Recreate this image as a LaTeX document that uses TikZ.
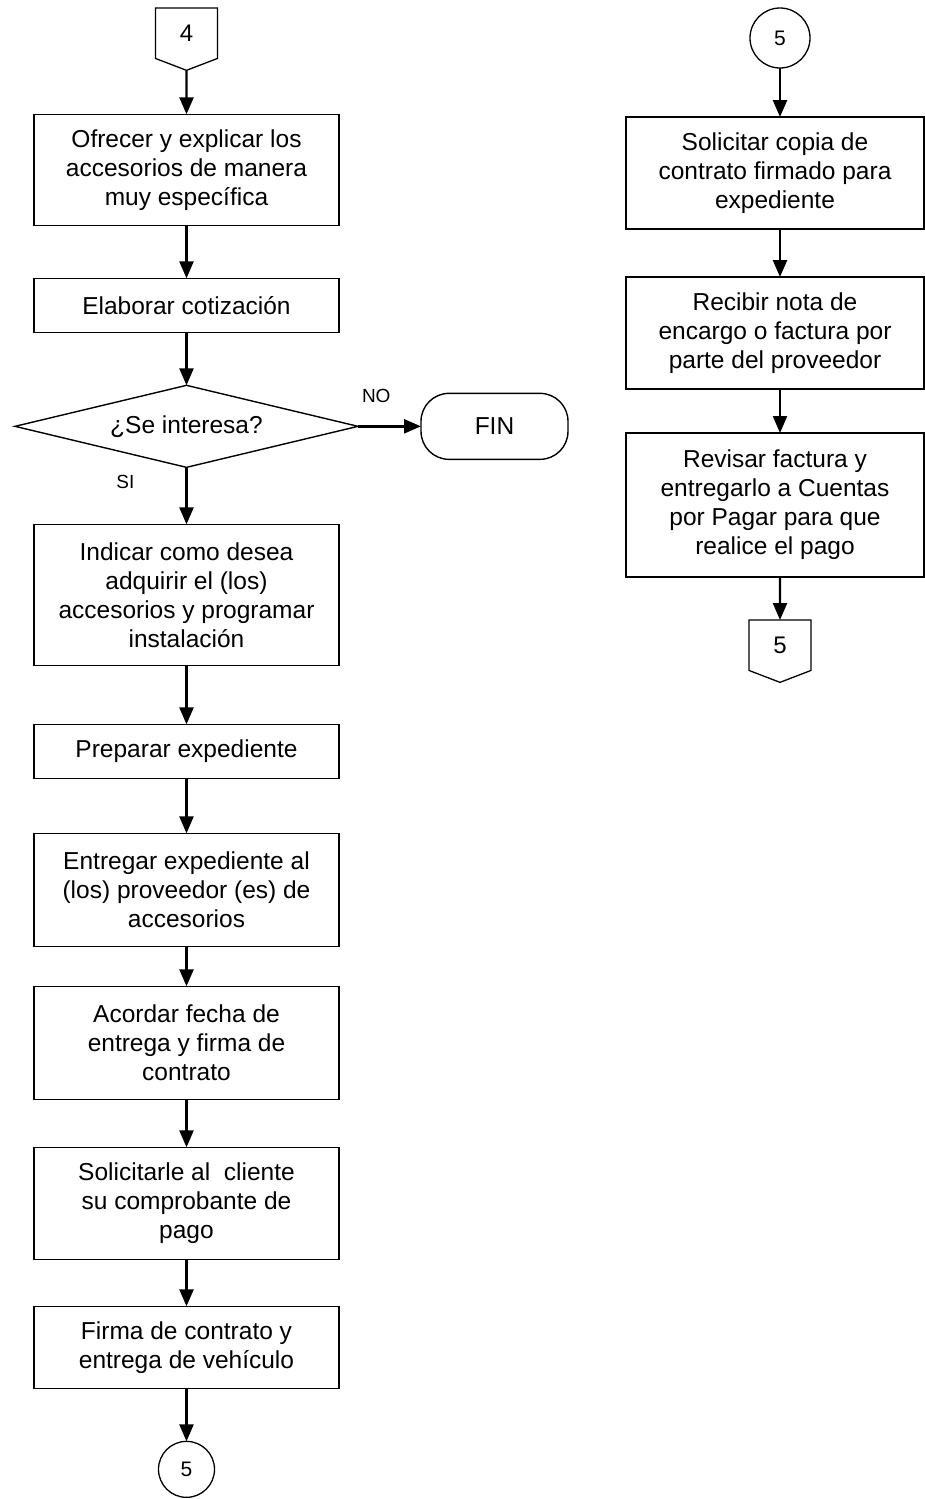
\documentclass[tikz,border=0pt]{standalone}
\usepackage{fontspec}
\setmainfont{Liberation Sans}
\usetikzlibrary{shapes.geometric,shapes.symbols,arrows.meta,positioning}

\begin{document}
\begin{tikzpicture}[
    x=1pt, y=-1pt,
    proc/.style={draw, rectangle, line width=1.5pt, align=center, inner sep=0pt, outer sep=0pt, minimum width=305pt, font=\fontsize{24.5}{29}\selectfont},
    procr/.style={proc, minimum width=298pt},
    decision/.style={draw, diamond, line width=1.4pt, aspect=4.18, inner sep=0pt, outer sep=0pt, minimum width=343pt, minimum height=82pt, font=\fontsize{24.5}{29}\selectfont},
    term/.style={draw, rectangle, rounded corners=28pt, line width=1.4pt, outer sep=0pt, minimum width=147pt, minimum height=66pt, font=\fontsize{24.5}{29}\selectfont},
    conn/.style={draw, circle, line width=1.3pt, inner sep=0pt, outer sep=0pt, minimum size=56pt, font=\fontsize{21}{24}\selectfont},
    offpage/.style={draw, signal, signal to=south, signal pointer angle=138, line width=1.3pt, inner sep=0pt, outer sep=0pt, minimum width=62pt, minimum height=53pt, font=\fontsize{24}{29}\selectfont},
    arr/.style={-{Triangle[length=17pt,width=14pt]}, line width=2.4pt},
    lbl/.style={inner sep=0pt, font=\fontsize{19}{22}\selectfont},
    node distance=0pt
]
    \useasboundingbox (0,0) rectangle (925,1499);

    % Left column
    \node[offpage, anchor=north] (off4) at (186.5,8) {4};
    \node[proc, minimum height=111pt, below=44pt of off4] (ofrecer) {Ofrecer y explicar los\\accesorios de manera\\muy específica};
    \node[proc, minimum height=54pt, below=53pt of ofrecer] (cotiz) {Elaborar cotización};
    \node[decision, below=53pt of cotiz] (interesa) {¿Se interesa?};
    \node[term, right=63pt of interesa] (fin) {FIN};
    \node[proc, minimum height=141pt, below=57pt of interesa] (indicar) {Indicar como desea\\adquirir el (los)\\accesorios y programar\\instalación};
    \node[proc, minimum height=54pt, below=59pt of indicar] (prep) {Preparar expediente};
    \node[proc, minimum height=113pt, below=55pt of prep] (entregar) {Entregar expediente al\\(los) proveedor (es) de\\accesorios};
    \node[proc, minimum height=113pt, below=40pt of entregar] (acordar) {Acordar fecha de\\entrega y firma de\\contrato};
    \node[proc, minimum height=112pt, below=48pt of acordar] (solic) {Solicitarle al\ \ cliente\\su comprobante de\\pago};
    \node[proc, minimum height=82pt, below=47pt of solic] (firma) {Firma de contrato y\\entrega de vehículo};
    \node[conn, below=53pt of firma] (c5) {5};

    % Right column
    \node[conn, minimum size=60pt] (c5r) at (780,38) {5};
    \node[procr, minimum height=112pt, anchor=north] (copia) at (775,117) {Solicitar copia de\\contrato firmado para\\expediente};
    \node[procr, minimum height=112pt, below=48pt of copia] (nota) {Recibir nota de\\encargo o factura por\\parte del proveedor};
    \node[procr, minimum height=144pt, below=44pt of nota] (revisar) {Revisar factura y\\entregarlo a Cuentas\\por Pagar para que\\realice el pago};
    \node[offpage, anchor=north] (off5) at (780,620) {5};

    % Connections
    \draw[arr] (off4) -- (ofrecer);
    \draw[arr] (ofrecer) -- (cotiz);
    \draw[arr] (cotiz) -- (interesa);
    \draw[arr] (interesa) -- node[lbl, pos=0.29, above=22pt] {NO} (fin);
    \draw[arr] (interesa) -- node[lbl, pos=0.26, left=51pt] {SI} (indicar);
    \draw[arr] (indicar) -- (prep);
    \draw[arr] (prep) -- (entregar);
    \draw[arr] (entregar) -- (acordar);
    \draw[arr] (acordar) -- (solic);
    \draw[arr] (solic) -- (firma);
    \draw[arr] (firma) -- (c5);

    \draw[arr] (c5r) -- (c5r |- copia.north);
    \draw[arr] (copia.south -| c5r) -- (nota.north -| c5r);
    \draw[arr] (nota.south -| c5r) -- (revisar.north -| c5r);
    \draw[arr] (revisar.south -| c5r) -- (off5);
\end{tikzpicture}
\end{document}
